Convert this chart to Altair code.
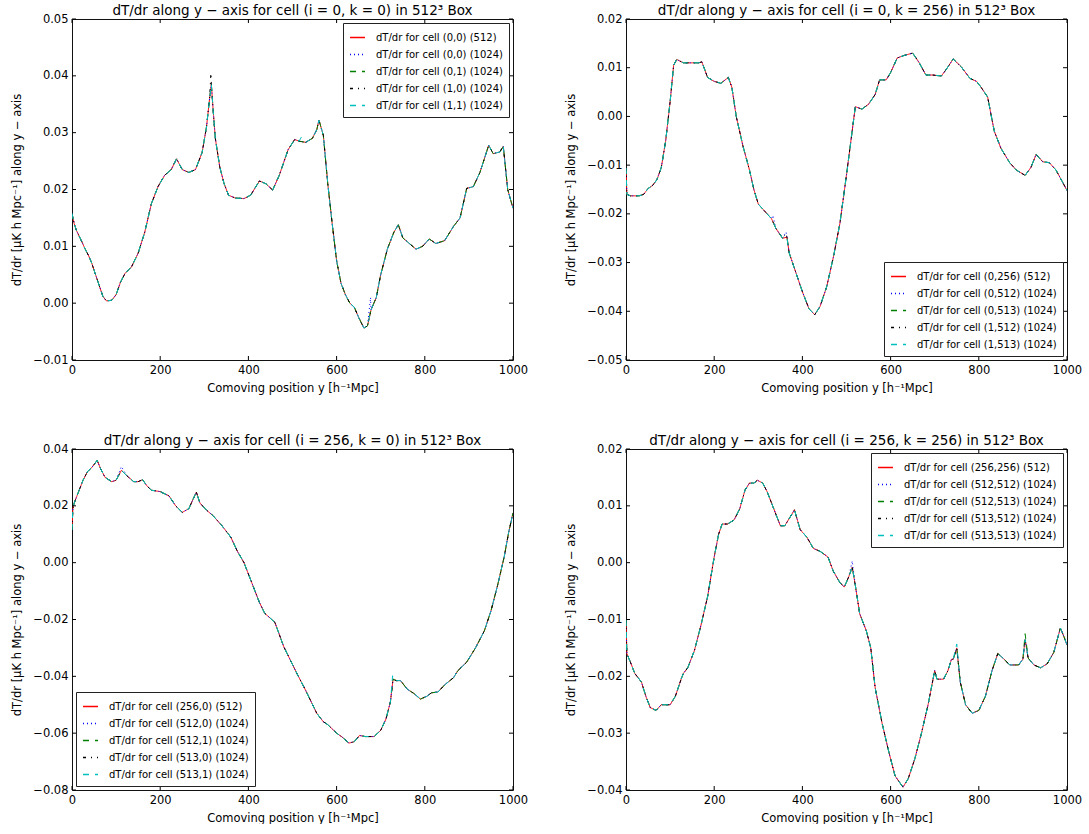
import altair as alt
import pandas as pd

X_TICKS = [0, 200, 400, 600, 800, 1000]
COLORS = ["#ff0000", "#0000ff", "#008000", "#000000", "#00bfbf"]
DASHES = [[1, 0], [1, 3], [6, 6], [3, 5, 1, 5], [6, 6]]

# ---------- panel A: (i=0, k=0) ----------
A_X = [0, 5, 10, 20, 30, 38, 45, 50, 60, 70,
       78, 90, 100, 110, 120, 135, 150, 165, 180, 195,
       210, 225, 237, 250, 265, 280, 295, 305, 312, 316,
       320, 325, 335, 345, 355, 370, 390, 405, 425, 440,
       455, 470, 490, 505, 515, 530, 545, 555, 560, 570,
       580, 590, 600, 610, 620, 630, 640, 650, 662, 670,
       678, 690, 700, 715, 730, 740, 750, 765, 780, 795,
       810, 825, 845, 865, 880, 895, 910, 925, 945, 955,
       970, 978, 988, 1000]
A_Y = [0.0158, 0.0140, 0.0128, 0.0112, 0.0095, 0.0083, 0.0070, 0.0058, 0.0035, 0.0012,
       0.0004, 0.0005, 0.0015, 0.0037, 0.0052, 0.0064, 0.0088, 0.0125, 0.0175, 0.0205,
       0.0225, 0.0235, 0.0254, 0.0235, 0.0230, 0.0235, 0.0265, 0.0310, 0.0360, 0.0385,
       0.0340, 0.0290, 0.0240, 0.0210, 0.0190, 0.0185, 0.0184, 0.0190, 0.0215, 0.0210,
       0.0199, 0.0225, 0.0270, 0.0288, 0.0285, 0.0283, 0.0290, 0.0305, 0.0322, 0.0295,
       0.0210, 0.0140, 0.0075, 0.0035, 0.0015, 0.0000, -0.0007, -0.0025, -0.0044, -0.0040,
       -0.0012, 0.0010, 0.0050, 0.0095, 0.0125, 0.0138, 0.0115, 0.0105, 0.0095, 0.0100,
       0.0113, 0.0105, 0.0110, 0.0135, 0.0150, 0.0202, 0.0205, 0.0230, 0.0278, 0.0263,
       0.0266, 0.0276, 0.0200, 0.0167]
A_NAMES = ["dT/dr for cell (0,0) (512)", "dT/dr for cell (0,0) (1024)",
           "dT/dr for cell (0,1) (1024)", "dT/dr for cell (1,0) (1024)",
           "dT/dr for cell (1,1) (1024)"]
A_EXTRA = {1: [(677, 0.0010)], 3: [(315, 0.0405)], 4: [(520, 0.0292)]}
A_YTICKS = [-0.01, 0.0, 0.01, 0.02, 0.03, 0.04, 0.05]

# ---------- panel B: (i=0, k=256) ----------
B_X = [0, 2, 10, 30, 40, 50, 60, 70, 80, 90,
       100, 108, 115, 130, 150, 165, 172, 185, 200, 215,
       232, 240, 250, 265, 280, 290, 300, 315, 330, 340,
       355, 365, 370, 385, 400, 415, 428, 440, 455, 470,
       485, 500, 510, 520, 535, 550, 565, 575, 590, 600,
       615, 630, 650, 665, 680, 695, 715, 725, 742, 760,
       780, 795, 805, 820, 835, 850, 870, 885, 905, 918,
       930, 945, 960, 975, 990, 1000]
B_Y = [-0.0106, -0.0160, -0.0163, -0.0163, -0.0160, -0.0148, -0.0142, -0.0130, -0.0105, -0.0050,
       0.0030, 0.0105, 0.0117, 0.0110, 0.0110, 0.0110, 0.0112, 0.0080, 0.0072, 0.0068,
       0.0080, 0.0060, 0.0000, -0.0060, -0.0110, -0.0150, -0.0180, -0.0195, -0.0210, -0.0230,
       -0.0250, -0.0248, -0.0280, -0.0320, -0.0360, -0.0395, -0.0407, -0.0390, -0.0350, -0.0290,
       -0.0220, -0.0120, -0.0050, 0.0020, 0.0015, 0.0025, 0.0045, 0.0075, 0.0075, 0.0090,
       0.0120, 0.0125, 0.0130, 0.0110, 0.0085, 0.0085, 0.0083, 0.0095, 0.0118, 0.0102,
       0.0078, 0.0072, 0.0060, 0.0040, -0.0030, -0.0065, -0.0095, -0.0110, -0.0121, -0.0105,
       -0.0078, -0.0093, -0.0095, -0.0110, -0.0135, -0.0152]
B_NAMES = ["dT/dr for cell (0,256) (512)", "dT/dr for cell (0,512) (1024)",
           "dT/dr for cell (0,513) (1024)", "dT/dr for cell (1,512) (1024)",
           "dT/dr for cell (1,513) (1024)"]
B_EXTRA = {1: [(333, -0.0203), (363, -0.0237)], 3: [(363, -0.0240)]}
B_YTICKS = [-0.05, -0.04, -0.03, -0.02, -0.01, 0.0, 0.01, 0.02]

# ---------- panel C: (i=256, k=0) ----------
C_X = [0, 2, 5, 15, 25, 35, 45, 57, 65, 75,
       90, 100, 112, 125, 140, 150, 160, 170, 180, 200,
       220, 235, 250, 265, 275, 282, 290, 305, 320, 340,
       360, 375, 390, 410, 425, 437, 460, 480, 510, 530,
       555, 570, 580, 600, 612, 628, 640, 652, 665, 685,
       700, 712, 722, 728, 735, 745, 760, 775, 790, 805,
       815, 830, 845, 865, 875, 895, 915, 935, 950, 965,
       980, 990, 1000]
C_Y = [0.0115, 0.0190, 0.0210, 0.0250, 0.0290, 0.0320, 0.0335, 0.0360, 0.0330, 0.0300,
       0.0285, 0.0290, 0.0325, 0.0305, 0.0285, 0.0285, 0.0292, 0.0270, 0.0255, 0.0250,
       0.0235, 0.0200, 0.0177, 0.0190, 0.0225, 0.0248, 0.0210, 0.0185, 0.0165, 0.0130,
       0.0090, 0.0040, 0.0000, -0.0080, -0.0140, -0.0178, -0.0210, -0.0295, -0.0390, -0.0450,
       -0.0530, -0.0560, -0.0570, -0.0600, -0.0613, -0.0635, -0.0630, -0.0608, -0.0612, -0.0612,
       -0.0590, -0.0550, -0.0490, -0.0410, -0.0415, -0.0415, -0.0445, -0.0460, -0.0480, -0.0470,
       -0.0458, -0.0455, -0.0430, -0.0405, -0.0380, -0.0350, -0.0300, -0.0240, -0.0170, -0.0080,
       0.0020, 0.0105, 0.0175]
C_NAMES = ["dT/dr for cell (256,0) (512)", "dT/dr for cell (512,0) (1024)",
           "dT/dr for cell (512,1) (1024)", "dT/dr for cell (513,0) (1024)",
           "dT/dr for cell (513,1) (1024)"]
C_EXTRA = {1: [(112, 0.0338)], 4: [(727, -0.0398)]}
C_YTICKS = [-0.08, -0.06, -0.04, -0.02, 0.0, 0.02, 0.04]

# ---------- panel D: (i=256, k=256) ----------
D_X = [0, 2, 10, 20, 35, 45, 55, 68, 80, 90,
       100, 112, 125, 130, 140, 155, 170, 185, 200, 210,
       218, 230, 245, 258, 270, 280, 290, 298, 310, 320,
       335, 350, 360, 372, 382, 395, 410, 425, 440, 458,
       470, 485, 495, 505, 513, 520, 530, 545, 555, 565,
       580, 595, 610, 628, 640, 655, 670, 685, 695, 700,
       705, 720, 730, 738, 742, 750, 758, 770, 785, 800,
       815, 830, 843, 855, 870, 890, 900, 905, 912, 925,
       940, 955, 970, 985, 993, 1000]
D_Y = [-0.0101, -0.0160, -0.0175, -0.0195, -0.0210, -0.0235, -0.0255, -0.0260, -0.0250, -0.0250,
       -0.0250, -0.0235, -0.0205, -0.0195, -0.0185, -0.0155, -0.0110, -0.0060, 0.0010, 0.0050,
       0.0068, 0.0068, 0.0075, 0.0095, 0.0128, 0.0140, 0.0140, 0.0145, 0.0140, 0.0125,
       0.0095, 0.0065, 0.0065, 0.0080, 0.0093, 0.0058, 0.0045, 0.0025, 0.0020, 0.0010,
       -0.0015, -0.0035, -0.0043, -0.0025, -0.0008, -0.0040, -0.0090, -0.0120, -0.0150, -0.0220,
       -0.0280, -0.0330, -0.0375, -0.0395, -0.0380, -0.0345, -0.0300, -0.0250, -0.0210, -0.0190,
       -0.0205, -0.0205, -0.0190, -0.0170, -0.0170, -0.0150, -0.0210, -0.0250, -0.0265, -0.0260,
       -0.0235, -0.0190, -0.0160, -0.0168, -0.0180, -0.0180, -0.0170, -0.0135, -0.0168, -0.0180,
       -0.0185, -0.0178, -0.0158, -0.0115, -0.0130, -0.0145]
D_NAMES = ["dT/dr for cell (256,256) (512)", "dT/dr for cell (512,512) (1024)",
           "dT/dr for cell (512,513) (1024)", "dT/dr for cell (513,512) (1024)",
           "dT/dr for cell (513,513) (1024)"]
D_EXTRA = {1: [(513, 0.0003)], 2: [(905, -0.0125)], 4: [(750, -0.0143)]}
D_YTICKS = [-0.04, -0.03, -0.02, -0.01, 0.0, 0.01, 0.02]

W, H = 441, 341
TICK = 4
FONT = "DejaVu Sans"


def panel(title, xs, ys, names, extra, yticks, orient):
    assert len(xs) == len(ys)
    rows = []
    for i, name in enumerate(names):
        pts = dict(zip(xs, ys))
        for x, y in extra.get(i, []):
            pts[x] = y
        for x in sorted(pts):
            rows.append({"pos": x, "val": pts[x], "series": name})
    df = pd.DataFrame(rows)

    xenc = alt.X("pos:Q", scale=alt.Scale(domain=[0, 1000], nice=False, zero=False),
                 axis=alt.Axis(values=X_TICKS, title="Comoving position y [h⁻¹Mpc]",
                               format="d"))
    yenc = alt.Y("val:Q", scale=alt.Scale(domain=[yticks[0], yticks[-1]], nice=False, zero=False),
                 axis=alt.Axis(values=yticks, format=".2f",
                               title="dT/dr [μK h Mpc⁻¹] along y − axis"))
    leg = alt.Legend(title=None, orient=orient, offset=4)
    lines = alt.Chart(df).mark_line(strokeWidth=1, clip=True).encode(
        x=xenc, y=yenc,
        color=alt.Color("series:N", scale=alt.Scale(domain=names, range=COLORS), legend=leg),
        strokeDash=alt.StrokeDash("series:N", scale=alt.Scale(domain=names, range=DASHES),
                                  legend=leg),
    )
    xt = pd.DataFrame({"pos": X_TICKS})
    yt = pd.DataFrame({"val": yticks})
    bottom = alt.Chart(xt).mark_rule(color="black").encode(
        x=xenc, y=alt.value(H), y2=alt.value(H - TICK))
    top = alt.Chart(xt).mark_rule(color="black").encode(
        x=xenc, y=alt.value(0), y2=alt.value(TICK))
    left = alt.Chart(yt).mark_rule(color="black").encode(
        y=yenc, x=alt.value(0), x2=alt.value(TICK))
    right = alt.Chart(yt).mark_rule(color="black").encode(
        y=yenc, x=alt.value(W - TICK), x2=alt.value(W))
    return alt.layer(lines, bottom, top, left, right).properties(
        width=W, height=H, title=title)


pA = panel("dT/dr along y − axis for cell (i = 0, k = 0) in 512³ Box",
           A_X, A_Y, A_NAMES, A_EXTRA, A_YTICKS, "top-right")
pB = panel("dT/dr along y − axis for cell (i = 0, k = 256) in 512³ Box",
           B_X, B_Y, B_NAMES, B_EXTRA, B_YTICKS, "bottom-right")
pC = panel("dT/dr along y − axis for cell (i = 256, k = 0) in 512³ Box",
           C_X, C_Y, C_NAMES, C_EXTRA, C_YTICKS, "bottom-left")
pD = panel("dT/dr along y − axis for cell (i = 256, k = 256) in 512³ Box",
           D_X, D_Y, D_NAMES, D_EXTRA, D_YTICKS, "top-right")

chart = alt.concat(pA, pB, pC, pD, columns=2, spacing={"row": 89, "column": 113},
                   bounds="flush").resolve_scale(
    x="independent", y="independent", color="independent", strokeDash="independent"
).resolve_legend(color="independent", strokeDash="independent").properties(
    padding={"left": 10, "top": 3, "right": 0, "bottom": 0}
).configure(font=FONT).configure_view(
    stroke="#111", strokeWidth=1
).configure_axis(
    labelFont=FONT, labelFontSize=11.5, labelColor="black", labelPadding=4,
    titleFont=FONT, titleFontSize=11.5, titleFontWeight="normal", titleColor="black",
    ticks=False, domain=False, grid=False, labelFlush=False, labelOverlap=False,
    minExtent=44, maxExtent=44, titlePadding=6
).configure_axisX(minExtent=16, maxExtent=16, titlePadding=6).configure_title(
    font=FONT, fontSize=13.5, fontWeight="normal", color="black", anchor="middle", offset=-4
).configure_legend(
    labelFont=FONT, labelFontSize=10, labelColor="black", symbolType="stroke",
    symbolSize=225, symbolStrokeWidth=1.5, strokeColor="#222", fillColor="white",
    padding=6, rowPadding=3, labelOffset=10, cornerRadius=0, labelLimit=200
)

chart.save("out.html", embed_options={"renderer": "svg", "actions": False})
